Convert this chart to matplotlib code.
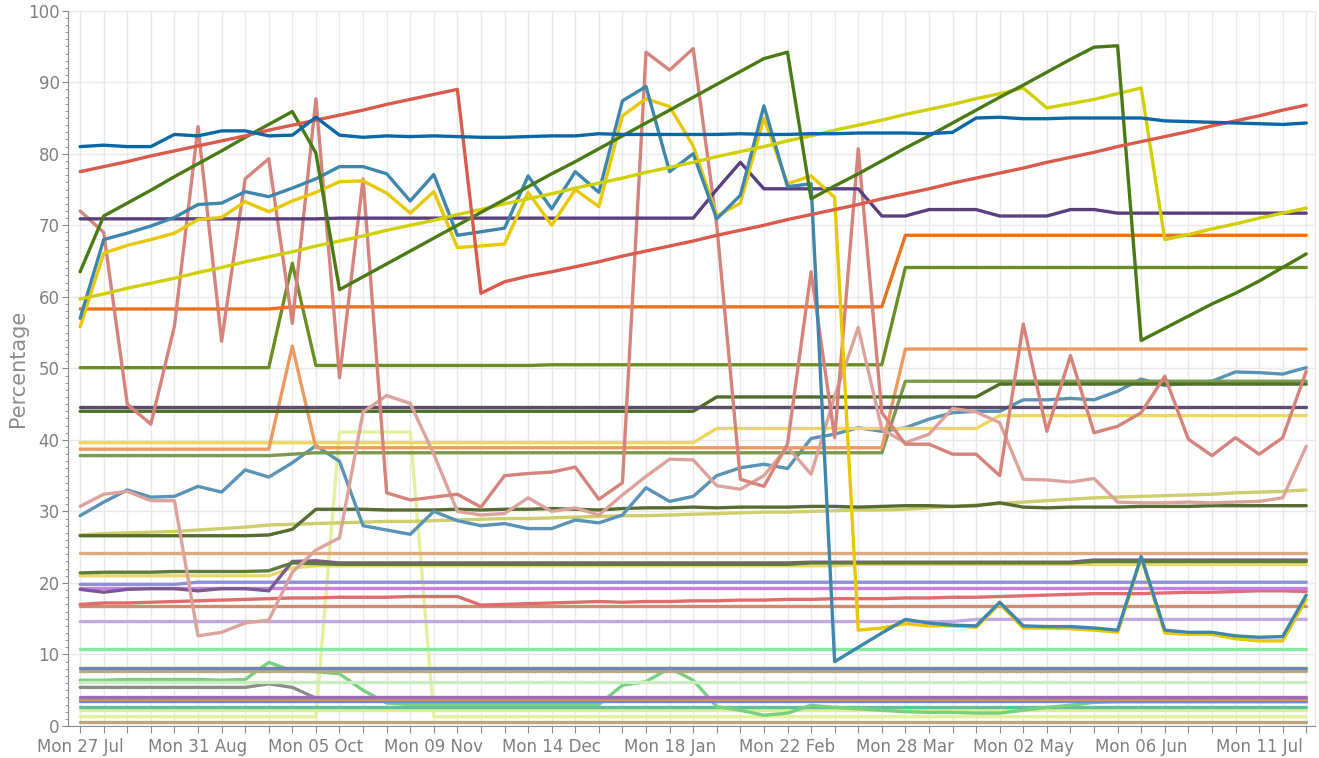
import pandas as pd
import matplotlib
matplotlib.use("Agg")
import matplotlib.pyplot as plt

weeks = pd.date_range("2015-07-27", periods=53, freq="7D")

# --- upper group ---
dark_blue = [81.0, 81.2, 81.0, 81.0, 82.7, 82.5, 83.2, 83.2, 82.5, 82.6,
             85.1, 82.6, 82.3, 82.5, 82.4, 82.5, 82.4, 82.3, 82.3, 82.4,
             82.5, 82.5, 82.8, 82.7, 82.7, 82.7, 82.7, 82.7, 82.8, 82.7,
             82.7, 82.8, 82.8, 82.9, 82.9, 82.9, 82.8, 83.0, 85.0, 85.1,
             84.9, 84.9, 85.0, 85.0, 85.0, 85.0, 84.6, 84.5, 84.4, 84.3,
             84.2, 84.1, 84.3]
red_rise = [77.5, 78.2, 78.9, 79.7, 80.4, 81.1, 81.8, 82.5, 83.3, 84.0,
            84.7, 85.4, 86.1, 86.9, 87.6, 88.3, 89.0, 60.5, 62.1, 62.9,
            63.5, 64.2, 64.9, 65.7, 66.4, 67.1, 67.8, 68.6, 69.3, 70.0,
            70.8, 71.5, 72.2, 72.9, 73.7, 74.4, 75.1, 75.9, 76.6, 77.3,
            78.0, 78.8, 79.5, 80.2, 81.0, 81.7, 82.4, 83.1, 83.9, 84.6,
            85.3, 86.1, 86.8]
green_saw = [63.5, 71.3, 73.1, 74.9, 76.8, 78.6, 80.4, 82.3, 84.1, 85.9,
             80.1, 61.0, 62.8, 64.6, 66.4, 68.2, 70.0, 71.8, 73.6, 75.4,
             77.2, 78.9, 80.7, 82.5, 84.3, 86.1, 87.9, 89.7, 91.5, 93.3,
             94.2, 73.7, 75.5, 77.2, 79.0, 80.8, 82.5, 84.3, 86.1, 87.9,
             89.6, 91.4, 93.2, 94.9, 95.1, 53.9, 55.6, 57.3, 59.0, 60.5,
             62.2, 64.1, 66.0]
lime_rise = [59.7, 60.4, 61.2, 61.9, 62.6, 63.4, 64.1, 64.9, 65.6, 66.3,
             67.1, 67.8, 68.5, 69.3, 70.0, 70.7, 71.5, 72.2, 73.0, 73.7,
             74.4, 75.2, 75.9, 76.6, 77.4, 78.1, 78.8, 79.6, 80.3, 81.0,
             81.8, 82.5, 83.3, 84.0, 84.7, 85.5, 86.2, 86.9, 87.7, 88.4,
             89.2, 86.4, 87.0, 87.6, 88.4, 89.2, 68.0, 68.7, 69.5, 70.2,
             71.0, 71.7, 72.4]
steel_jump = [57.0, 68.0, 68.9, 69.9, 71.1, 72.9, 73.1, 74.7, 74.0, 75.2,
              76.5, 78.2, 78.2, 77.2, 73.4, 77.1, 68.6, 69.1, 69.6, 76.9,
              72.3, 77.5, 74.6, 87.4, 89.4, 77.5, 80.0, 70.9, 74.2, 86.7,
              75.4, 75.8, 9.0, 11.0, 13.0, 14.9, 14.4, 14.1, 14.0, 17.3,
              14.0, 13.9, 13.9, 13.7, 13.4, 23.7, 13.4, 13.1, 13.1, 12.6,
              12.4, 12.5, 18.3]
gold_jump = [55.8, 66.1, 67.2, 68.0, 68.9, 70.8, 71.1, 73.3, 71.9, 73.4,
             74.6, 76.1, 76.2, 74.5, 71.7, 74.7, 66.9, 67.1, 67.4, 74.6,
             70.0, 75.0, 72.6, 85.3, 87.7, 86.6, 81.1, 71.3, 73.1, 85.0,
             75.8, 76.9, 73.9, 13.4, 13.7, 14.3, 14.0, 14.0, 13.8, 17.1,
             13.7, 13.7, 13.6, 13.4, 13.1, 23.5, 13.0, 12.8, 12.8, 12.2,
             11.9, 11.9, 17.7]
purple_71 = ([70.9] * 11 + [71.0] * 16 +
             [75.0, 78.8, 75.1, 75.1, 75.1, 75.1, 75.1, 71.3, 71.3, 72.2,
              72.2, 72.2, 71.3, 71.3, 71.3, 72.2, 72.2] + [71.7] * 9)
salmon = [72.0, 69.0, 45.0, 42.2, 55.9, 83.8, 53.8, 76.5, 79.3, 56.3,
          87.7, 48.7, 76.5, 32.6, 31.6, 32.0, 32.4, 30.6, 35.0, 35.3,
          35.5, 36.2, 31.7, 34.0, 94.2, 91.7, 94.7, 70.0, 34.5, 33.5,
          39.4, 63.5, 40.3, 80.7, 43.8, 39.4, 39.4, 38.0, 38.0, 35.0,
          56.2, 41.2, 51.8, 41.0, 41.9, 43.8, 48.9, 40.1, 37.8, 40.3,
          38.0, 40.3, 49.6]
pale_salmon = [30.7, 32.4, 32.8, 31.5, 31.5, 12.6, 13.1, 14.4, 14.8, 21.5,
               24.6, 26.3, 43.9, 46.2, 45.1, 38.0, 30.0, 29.5, 29.7, 31.9,
               30.0, 30.5, 29.5, 32.3, 34.9, 37.3, 37.2, 33.6, 33.1, 35.0,
               39.0, 35.2, 46.1, 55.7, 41.5, 39.6, 40.8, 44.4, 43.9, 42.4,
               34.5, 34.4, 34.1, 34.6, 31.3, 31.2, 31.2, 31.3, 31.2, 31.3,
               31.4, 31.9, 39.1]

# --- step lines ---
orange_58 = [58.3] * 9 + [58.6] * 26 + [68.6] * 18
olive_50 = [50.1] * 9 + [64.7] + [50.4] * 10 + [50.5] * 15 + [64.1] * 18
peach_38 = [38.7] * 9 + [53.1] + [38.9] * 25 + [52.7] * 18
plum_44 = [44.6] * 53
forest_44 = [44.0] * 27 + [46.0] * 12 + [47.8] * 14
sage_38 = [37.8] * 9 + [38.0] + [38.2] * 25 + [48.2] * 18
sand_39 = [39.6] * 27 + [41.6] * 12 + [43.4] * 14
steel_29 = [29.4, 31.3, 33.0, 32.0, 32.1, 33.5, 32.7, 35.8, 34.8, 36.8,
            39.2, 37.0, 28.0, 27.4, 26.8, 30.0, 28.7, 28.0, 28.3, 27.6,
            27.6, 28.8, 28.4, 29.5, 33.3, 31.4, 32.1, 35.0, 36.1, 36.6,
            36.0, 40.2, 40.8, 41.7, 41.2, 41.7, 42.9, 43.8, 44.0, 44.0,
            45.6, 45.6, 45.8, 45.6, 46.8, 48.5, 47.6, 48.0, 48.2, 49.5,
            49.4, 49.2, 50.1]
olive_26 = [26.6, 26.6, 26.6, 26.6, 26.6, 26.6, 26.6, 26.6, 26.7, 27.5,
            30.3, 30.3, 30.3, 30.2, 30.2, 30.2, 30.3, 30.2, 30.3, 30.3,
            30.4, 30.3, 30.2, 30.4, 30.5, 30.5, 30.6, 30.5, 30.6, 30.6,
            30.6, 30.7, 30.7, 30.6, 30.7, 30.8, 30.8, 30.7, 30.8, 31.2,
            30.6, 30.5, 30.6, 30.6, 30.6, 30.7, 30.7, 30.7, 30.8, 30.8,
            30.8, 30.8, 30.8]
khaki_27 = [26.7, 26.9, 27.0, 27.1, 27.2, 27.4, 27.6, 27.8, 28.1, 28.2,
            28.3, 28.4, 28.5, 28.6, 28.6, 28.7, 28.8, 28.9, 29.0, 29.0,
            29.1, 29.2, 29.3, 29.4, 29.4, 29.5, 29.6, 29.7, 29.8, 29.9,
            29.9, 30.0, 30.1, 30.2, 30.2, 30.3, 30.5, 30.7, 30.9, 31.1,
            31.3, 31.5, 31.7, 31.9, 32.0, 32.1, 32.2, 32.3, 32.4, 32.6,
            32.7, 32.8, 33.0]

# --- lower group ---
tan_24 = [24.2] * 53
green_21 = [21.4, 21.5, 21.5, 21.5, 21.6, 21.6, 21.6, 21.6, 21.7, 22.8, 22.7] + [22.6] * 20 + [22.8] * 12 + [23.0] * 10
purple_19 = [19.1, 18.7, 19.1, 19.2, 19.2, 18.9, 19.2, 19.2, 18.9, 23.0, 23.1] + [22.8] * 20 + [22.9] * 12 + [23.2] * 10
yellow_21 = [21.0] * 9 + [22.1] + [22.4] * 23 + [22.6] * 20
periwinkle_20 = [19.8] * 5 + [20.1] * 48
orchid_19 = [19.3] * 53
red_17 = [17.0, 17.2, 17.2, 17.3, 17.4, 17.5, 17.6, 17.7, 17.8, 17.9,
          17.9, 18.0, 18.0, 18.0, 18.1, 18.1, 18.1, 16.9, 17.0, 17.1,
          17.2, 17.3, 17.4, 17.3, 17.4, 17.4, 17.5, 17.5, 17.6, 17.6,
          17.7, 17.7, 17.8, 17.8, 17.8, 17.9, 17.9, 18.0, 18.0, 18.1,
          18.2, 18.3, 18.4, 18.5, 18.5, 18.5, 18.6, 18.7, 18.7, 18.8,
          18.9, 18.9, 18.8]
brown_17 = [16.8] * 53
lavender_15 = [14.6] * 38 + [14.9] * 15
mint_11 = [10.7] * 53
blue_8 = [8.1] * 53
khaki_8 = [7.7] * 53
green_6 = [6.4, 6.4, 6.5, 6.5, 6.5, 6.5, 6.4, 6.5, 8.9, 7.7,
           7.6, 7.3, 5.0, 3.2, 3.0, 3.0, 3.0, 3.0, 3.0, 3.0,
           3.0, 3.0, 3.0, 5.7, 6.2, 8.1, 6.4, 2.7, 2.2, 1.5,
           1.8, 2.9, 2.6, 2.4, 2.2, 2.0, 1.9, 1.9, 1.8, 1.8,
           2.2, 2.6, 2.9, 3.3, 3.4, 3.4, 3.4, 3.4, 3.4, 3.4,
           3.4, 3.4, 3.4]
pale_green_6 = [6.2] * 53
grey_5 = [5.4] * 8 + [5.9, 5.4] + [3.9] * 43
purple_4 = [4.1] * 53
orange_4 = [3.8] * 53
blue_4 = [3.55] * 53
teal_3 = [2.6] * 53
lime_2 = [2.2] * 53
pale_spike = [1.3] * 11 + [41.1] * 4 + [1.3] * 38
tan_0 = [0.5] * 53

# drawing order: first is at the back
series = [
    (tan_0, "#b8a87c"), (pale_spike, "#e4f0a0"), (lime_2, "#dcef92"),
    (teal_3, "#5fbf9f"), (grey_5, "#8d8d87"), (green_6, "#79d07e"),
    (blue_4, "#6f86dc"), (orange_4, "#d9914f"), (purple_4, "#9a6cb8"),
    (pale_green_6, "#c6ecc0"), (khaki_8, "#b7ab7a"), (blue_8, "#6f80d8"),
    (mint_11, "#86eaa2"), (lavender_15, "#c3a8e6"), (brown_17, "#cd8d6e"),
    (red_17, "#e26b6e"), (orchid_19, "#c680e2"), (periwinkle_20, "#8e90dc"),
    (yellow_21, "#ead86e"), (purple_19, "#7b5a8d"), (green_21, "#5e7b3d"),
    (tan_24, "#dda77f"), (khaki_27, "#cfce6c"), (olive_26, "#566c30"),
    (steel_29, "#5a93b6"), (sand_39, "#ecd85c"), (sage_38, "#7a9a4f"),
    (peach_38, "#ec9a5f"), (forest_44, "#4f6f29"), (plum_44, "#5c4d6c"),
    (olive_50, "#6b8e24"), (orange_58, "#e8731d"), (pale_salmon, "#dba39b"),
    (salmon, "#d5837b"), (purple_71, "#5a3f7e"), (gold_jump, "#e8c800"),
    (steel_jump, "#3f86ad"), (lime_rise, "#d0d000"), (green_saw, "#4a7a13"),
    (red_rise, "#da5a4b"), (dark_blue, "#0a68a6"),
]
for vals, _ in series:
    assert len(vals) == len(weeks)

fig = plt.figure(figsize=(13.19, 7.58), dpi=100)
ax = fig.add_axes([68 / 1319, 32 / 758, (1315 - 68) / 1319, (726 - 10.7) / 758])

for vals, col in series:
    ax.plot(weeks, vals, color=col, lw=2.4, solid_joinstyle="round",
            solid_capstyle="round")

ax.set_ylim(0, 100)
ax.set_xlim(weeks[0] - pd.Timedelta(days=3.6), weeks[-1] + pd.Timedelta(days=2.6))

ax.set_xticks(weeks)
ax.set_xticklabels([d.strftime("%a %d %b") if k % 5 == 0 else "" for k, d in enumerate(weeks)])
ax.set_yticks(range(0, 101, 10))
ax.set_yticks(range(0, 101, 1), minor=True)

ax.grid(True, which="major", color="#e9e9e9", lw=1)
ax.set_axisbelow(True)

ax.spines["top"].set_visible(False)
ax.spines["right"].set_color("#e9e9e9")
ax.spines["left"].set_color("#8a8a8a")
ax.spines["bottom"].set_color("#8a8a8a")

ax.tick_params(axis="x", length=5, color="#8a8a8a", labelsize=12, labelcolor="#808080", pad=4)
ax.tick_params(axis="y", which="major", length=4, color="#8a8a8a", labelsize=12, labelcolor="#808080", pad=2)
ax.tick_params(axis="y", which="minor", length=2, color="#8a8a8a")

ax.set_ylabel("Percentage", fontsize=15, color="#8c8c8c")
ax.yaxis.set_label_coords(-40 / 1247, 0.5)

fig.savefig("out.png", dpi=100)
